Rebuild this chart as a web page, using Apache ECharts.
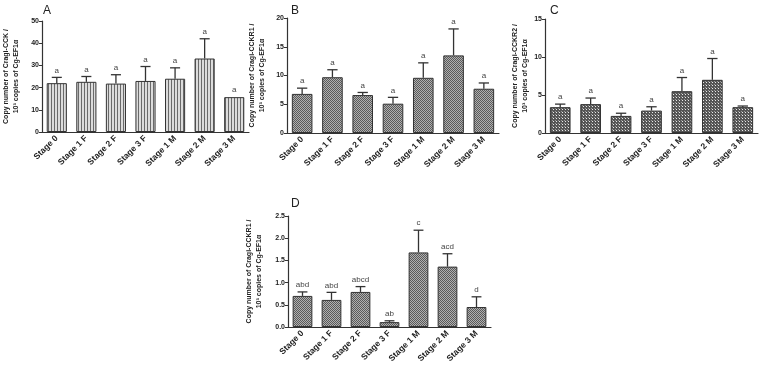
<!DOCTYPE html>
<html>
<head>
<meta charset="utf-8">
<script src="https://cdn.jsdelivr.net/npm/echarts@6/dist/echarts.min.js"></script>
<style>
  html,body{margin:0;padding:0;background:#fff;}
  #chart{width:759px;height:370px;}
</style>
</head>
<body>
<div id="chart"></div>
<script>
  var stages = ['Stage 0', 'Stage 1 F', 'Stage 2 F', 'Stage 3 F', 'Stage 1 M', 'Stage 2 M', 'Stage 3 M'];

  // panel A - Cragi-CCK
  var cckMean = [22.0, 22.6, 21.8, 23.0, 24.0, 33.1, 15.7];
  var cckSE = [2.6, 2.4, 4.0, 6.5, 4.9, 8.9, 0];
  var cckLetters = ['a', 'a', 'a', 'a', 'a', 'a', 'a'];

  // panel B - Cragi-CCKR1
  var cckr1Mean = [6.8, 9.7, 6.6, 5.1, 9.6, 13.5, 7.7];
  var cckr1SE = [1.0, 1.3, 0.45, 1.1, 2.6, 4.6, 1.0];
  var cckr1Letters = ['a', 'a', 'a', 'a', 'a', 'a', 'a'];

  // panel C - Cragi-CCKR2
  var cckr2Mean = [3.4, 3.8, 2.25, 2.95, 5.5, 7.0, 3.4];
  var cckr2SE = [0.4, 0.8, 0.35, 0.5, 1.8, 2.8, 0.15];
  var cckr2Letters = ['a', 'a', 'a', 'a', 'a', 'a', 'a'];

  // panel D - Cragi-CCKR1 (second set)
  var dMean = [0.70, 0.61, 0.79, 0.11, 1.68, 1.36, 0.45];
  var dSE = [0.09, 0.17, 0.12, 0.03, 0.50, 0.29, 0.23];
  var dLetters = ['abd', 'abd', 'abcd', 'ab', 'c', 'acd', 'd'];

  // small canvas patterns for the bar fills
  function pattern(w, h, draw) {
    var c = document.createElement('canvas');
    c.width = w; c.height = h;
    var ctx = c.getContext('2d');
    draw(ctx);
    return {image: c, repeat: 'repeat'};
  }
  var stripes = pattern(3, 1, function (ctx) {
    ctx.fillStyle = '#dcdcdc'; ctx.fillRect(0, 0, 3, 1);
    ctx.fillStyle = '#6a6a6a'; ctx.fillRect(0, 0, 1, 1);
  });
  var dots = pattern(2, 2, function (ctx) {
    ctx.fillStyle = '#b0b0b0'; ctx.fillRect(0, 0, 2, 2);
    ctx.fillStyle = '#5a5a5a'; ctx.fillRect(0, 0, 1, 1); ctx.fillRect(1, 1, 1, 1);
  });
  var checks = pattern(3, 3, function (ctx) {
    ctx.fillStyle = '#555'; ctx.fillRect(0, 0, 3, 3);
    ctx.fillStyle = '#e8e8e8'; ctx.fillRect(1, 1, 1, 1);
    ctx.fillStyle = '#999'; ctx.fillRect(0, 0, 1, 1);
  });

  var font = '"Liberation Sans", Arial, sans-serif';

  var grids = [
    {left: 40, top: 21, width: 209, height: 111},
    {left: 287, top: 18, width: 212, height: 115},
    {left: 545, top: 19, width: 213, height: 114},
    {left: 288, top: 216, width: 203, height: 111}
  ];
  var yNames = [
    'Copy number of Cragi-CCK /\n10³ copies of Cg-EF1α',
    'Copy number of Cragi-CCKR1 /\n10³ copies of Cg-EF1α',
    'Copy number of Cragi-CCKR2 /\n10³ copies of Cg-EF1α',
    'Copy number of Cragi-CCKR1 /\n10³ copies of Cg-EF1α'
  ];
  var yMax = [50, 20, 15, 2.5];
  var yStep = [10, 5, 5, 0.5];
  var nameGaps = [21, 20, 12, 24];
  var means = [cckMean, cckr1Mean, cckr2Mean, dMean];
  var ses = [cckSE, cckr1SE, cckr2SE, dSE];
  var letters = [cckLetters, cckr1Letters, cckr2Letters, dLetters];
  var fills = [stripes, dots, checks, dots];

  var xAxes = grids.map(function (g, i) {
    return {
      gridIndex: i,
      type: 'category',
      data: stages,
      axisTick: {show: false},
      axisLine: {lineStyle: {color: '#333', width: 1.2}},
      axisLabel: {
        interval: 0, rotate: 45, margin: 5,
        fontSize: 8.5, fontWeight: 'bold', fontFamily: font, color: '#222'
      }
    };
  });
  var yAxes = grids.map(function (g, i) {
    return {
      gridIndex: i,
      type: 'value',
      min: 0, max: yMax[i], interval: yStep[i],
      name: yNames[i],
      nameLocation: 'middle',
      nameRotate: 90,
      nameGap: nameGaps[i],
      nameTextStyle: {fontSize: 7, fontWeight: 'bold', fontFamily: font, color: '#222', lineHeight: 10},
      splitLine: {show: false},
      axisLine: {show: true, lineStyle: {color: '#333', width: 1.2}},
      axisTick: {show: true, length: 3, lineStyle: {color: '#333'}},
      axisLabel: {
        margin: 3, fontSize: 7, fontWeight: 'bold', fontFamily: font, color: '#222',
        formatter: function (v) { return i === 3 ? v.toFixed(1) : String(v); }
      }
    };
  });

  var series = [];
  means.forEach(function (m, i) {
    series.push({
      type: 'bar',
      xAxisIndex: i, yAxisIndex: i,
      barWidth: '68%',
      data: m,
      itemStyle: {color: fills[i], borderColor: '#333', borderWidth: 1},
      silent: true
    });
    series.push({
      type: 'custom',
      xAxisIndex: i, yAxisIndex: i,
      z: 3,
      data: m.map(function (v, k) { return [k, v, v + ses[i][k]]; }),
      renderItem: function (params, api) {
        var p0 = api.coord([api.value(0), api.value(1)]);
        var p1 = api.coord([api.value(0), api.value(2)]);
        var half = api.size([1, 0])[0] * 0.17;
        var children = [];
        if (p0[1] - p1[1] > 0.5) {
          children.push({type: 'line', shape: {x1: p0[0], y1: p0[1], x2: p1[0], y2: p1[1]},
            style: {stroke: '#333', lineWidth: 1.3}});
          children.push({type: 'line', shape: {x1: p1[0] - half, y1: p1[1], x2: p1[0] + half, y2: p1[1]},
            style: {stroke: '#333', lineWidth: 1.3}});
        }
        children.push({type: 'text', x: p1[0], y: p1[1] - 3,
          style: {text: letters[i][params.dataIndex], textAlign: 'center', textVerticalAlign: 'bottom',
            fontSize: 8, fontFamily: font, fill: '#444'}});
        return {type: 'group', children: children};
      }
    });
  });

  var chart = echarts.init(document.getElementById('chart'));
  chart.setOption({
    animation: false,
    title: [
      {text: 'A', left: 38, top: 0},
      {text: 'B', left: 286, top: 0},
      {text: 'C', left: 545, top: 0},
      {text: 'D', left: 286, top: 193}
    ].map(function (t) {
      t.textStyle = {fontSize: 12, fontWeight: 'normal', fontFamily: font, color: '#222'};
      return t;
    }),
    grid: grids,
    xAxis: xAxes,
    yAxis: yAxes,
    series: series
  });
</script>
</body>
</html>
